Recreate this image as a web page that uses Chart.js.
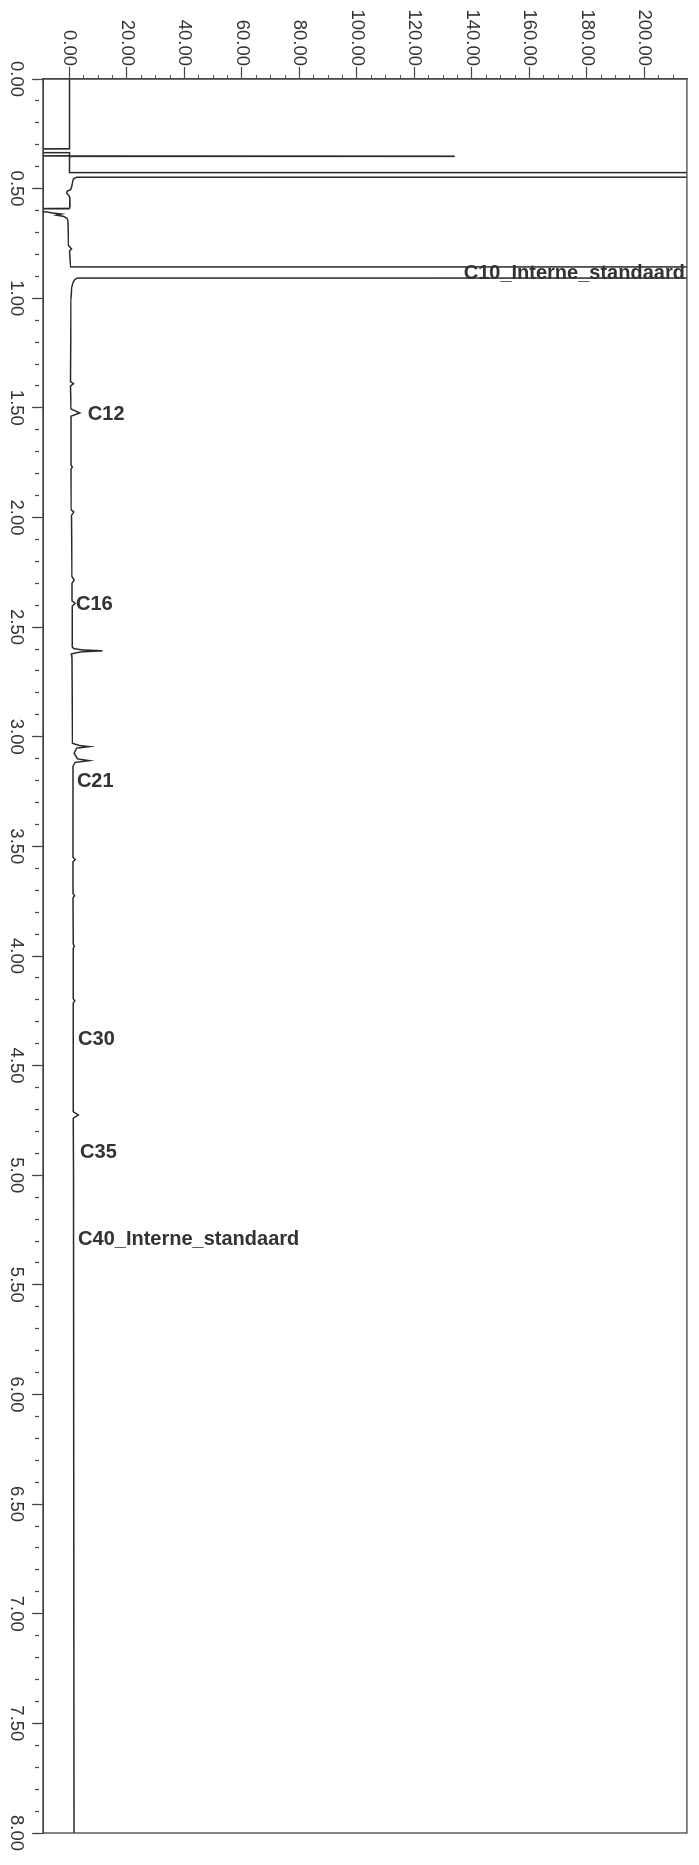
<!DOCTYPE html>
<html>
<head>
<meta charset="utf-8">
<script src="https://cdn.jsdelivr.net/npm/chart.js@4.4.4/dist/chart.umd.min.js"></script>
<style>
  html, body { margin: 0; padding: 0; background: #fff; overflow: hidden; width: 699px; height: 1865px; }
  /* the chromatogram is printed sideways: draw it landscape, turn it a quarter clockwise */
  #wrap { position: absolute; left: 0; top: 0; width: 1865px; height: 699px;
          transform-origin: 0 0; transform: translate(699px, 0) rotate(90deg); }
</style>
</head>
<body>
<div id="wrap"><canvas id="chart" width="1865" height="699"></canvas></div>
<script>
// retention time (min) and detector signal
const retentionTimes = [
  0.000, 0.318, 0.319, 0.335, 0.336, 0.350, 0.351, 0.352, 0.353, 0.425,
  0.427, 0.446, 0.448, 0.452, 0.458, 0.470, 0.490, 0.505, 0.512, 0.520,
  0.528, 0.540, 0.580, 0.590, 0.592, 0.604, 0.606, 0.611, 0.616, 0.621,
  0.627, 0.636, 0.650, 0.700, 0.760, 0.775, 0.785, 0.820, 0.857, 0.859,
  0.906, 0.908, 0.915, 0.930, 0.950, 1.000, 1.380, 1.390, 1.400, 1.505,
  1.523, 1.538, 1.760, 1.770, 1.780, 1.965, 1.975, 1.990, 2.270, 2.285,
  2.300, 2.380, 2.392, 2.404, 2.590, 2.598, 2.604, 2.608, 2.613, 2.622,
  2.640, 3.030, 3.040, 3.045, 3.052, 3.075, 3.101, 3.109, 3.117, 3.135,
  3.550, 3.560, 3.570, 3.715, 3.725, 3.735, 3.945, 3.955, 3.965, 4.195,
  4.205, 4.215, 4.710, 4.725, 4.740, 5.000, 6.500, 8.000
];
const signal = [
  0, 0, -20, -20, 0, 0, -20, 134, 0, 0,
  3000, 3000, 2.6, 1.8, 1.3, 1.1, 0.8, 0.4, -0.8, -1.0,
  -0.4, 0.1, 0.2, 0, -20, -20, -8, -6, -2.8, -4.5,
  -2, -0.8, -0.5, -0.4, -0.3, 0.7, 0, 0.2, 0.4, 3000,
  3000, 2.7, 1.9, 1.2, 0.8, 0.5, 0.4, 1.4, 0.4, 0.5,
  3.6, 0.5, 0.5, 1.0, 0.5, 0.6, 1.5, 0.7, 0.9, 1.6,
  0.9, 0.9, 2.0, 1.0, 1.0, 1.5, 4.5, 11.5, 4.0, 0.7,
  0.9, 1.1, 3.5, 6.9, 2.5, 1.6, 2.8, 6.9, 2.0, 1.2,
  1.2, 2.0, 1.2, 1.2, 1.8, 1.2, 1.3, 1.7, 1.3, 1.3,
  1.9, 1.3, 1.3, 3.1, 1.3, 1.4, 1.5, 1.6
];

// peak annotations; a null level means the peak runs off scale
const peakNames = ['C10_Interne_standaard', 'C12', 'C16', 'C21', 'C30', 'C35', 'C40_Interne_standaard'];
const peakTimes = [0.885, 1.532, 2.399, 3.206, 4.383, 4.894, 5.291];
const peakLabelLevels = [null, 6.4, 2.3, 2.6, 3.0, 3.7, 3.0];

const timeTicks = [0, 0.5, 1, 1.5, 2, 2.5, 3, 3.5, 4, 4.5, 5, 5.5, 6, 6.5, 7, 7.5, 8];
const timeTickLabels = ['0.00', '0.50', '1.00', '1.50', '2.00', '2.50', '3.00', '3.50', '4.00',
  '4.50', '5.00', '5.50', '6.00', '6.50', '7.00', '7.50', '8.00'];
const signalTicks = [0, 20, 40, 60, 80, 100, 120, 140, 160, 180, 200];
const signalTickLabels = ['0.00', '20.00', '40.00', '60.00', '80.00', '100.00', '120.00',
  '140.00', '160.00', '180.00', '200.00'];

const TIME_MIN = 0, TIME_MAX = 8;
const SIGNAL_MIN = -9.2, SIGNAL_MAX = 214.8;

const INK = '#2a2a2a';
const TEXT = '#333';
const FONT = '"Liberation Sans", Arial, sans-serif';

const minorTimeTicks = [];
for (let i = 0; i <= 80; i++) minorTimeTicks.push(i / 10);
const minorSignalTicks = [];
for (let v = 0; v <= 210; v += 5) minorSignalTicks.push(v);

function fixedTicks(values) {
  return scale => { scale.ticks = values.map(value => ({ value })); };
}

const framePlugin = {
  id: 'frame',
  afterDatasetsDraw(chart) {
    const { ctx, chartArea: a } = chart;
    ctx.save();
    ctx.strokeStyle = '#444';
    ctx.lineWidth = 1.3;
    ctx.strokeRect(a.left, a.top, a.right - a.left, a.bottom - a.top);
    ctx.restore();
  }
};

const peakLabelPlugin = {
  id: 'peakLabels',
  afterDatasetsDraw(chart) {
    const { ctx, chartArea, scales: { x, y } } = chart;
    ctx.save();
    ctx.font = 'bold 20px ' + FONT;
    ctx.fillStyle = TEXT;
    ctx.textBaseline = 'middle';
    peakNames.forEach((name, i) => {
      const px = x.getPixelForValue(peakTimes[i]);
      const level = peakLabelLevels[i];
      const py = level === null ? chartArea.top + 2 : y.getPixelForValue(level);
      ctx.save();
      ctx.translate(px, py);
      ctx.rotate(-Math.PI / 2);
      ctx.textAlign = level === null ? 'right' : 'left';
      ctx.fillText(name, 0, 0);
      ctx.restore();
    });
    ctx.restore();
  }
};

new Chart(document.getElementById('chart'), {
  type: 'line',
  data: {
    datasets: [{
      data: retentionTimes.map((t, i) => ({ x: t, y: signal[i] })),
      borderColor: INK,
      borderWidth: 1.5,
      pointRadius: 0,
      tension: 0,
      fill: false
    }]
  },
  options: {
    responsive: false,
    animation: false,
    layout: { padding: { top: 12, right: 32, left: 0, bottom: 0 } },
    plugins: { legend: { display: false }, tooltip: { enabled: false } },
    scales: {
      x: {
        type: 'linear', position: 'bottom', weight: 1,
        min: TIME_MIN, max: TIME_MAX,
        afterBuildTicks: fixedTicks(timeTicks),
        afterFit: s => { s.height = 43; },
        ticks: {
          autoSkip: false, minRotation: 0, maxRotation: 0, padding: 5, color: TEXT,
          font: { family: FONT, size: 18.5 },
          callback: (v, i) => timeTickLabels[i]
        },
        grid: { drawOnChartArea: false, tickLength: 11, tickColor: '#444', tickWidth: 1.2 },
        border: { color: '#444', width: 1.3 }
      },
      xMinor: {
        type: 'linear', position: 'bottom', weight: 0,
        min: TIME_MIN, max: TIME_MAX,
        afterBuildTicks: fixedTicks(minorTimeTicks),
        afterFit: s => { s.height = 0; },
        ticks: { display: false, autoSkip: false },
        grid: { drawOnChartArea: false, tickLength: 8, tickColor: '#444', tickWidth: 1.2, tickBorderDash: [0, 4, 4, 40] },
        border: { display: false }
      },
      y: {
        type: 'linear', position: 'left', weight: 1,
        min: SIGNAL_MIN, max: SIGNAL_MAX,
        afterBuildTicks: fixedTicks(signalTicks),
        afterFit: s => { s.width = 79; },
        ticks: {
          autoSkip: false, padding: 1, color: TEXT,
          font: { family: FONT, size: 18.5 },
          callback: (v, i) => signalTickLabels[i]
        },
        grid: { drawOnChartArea: false, tickLength: 12, tickColor: '#444', tickWidth: 1.2 },
        border: { color: '#444', width: 1.3 }
      },
      yMinor: {
        type: 'linear', position: 'left', weight: 0,
        min: SIGNAL_MIN, max: SIGNAL_MAX,
        afterBuildTicks: fixedTicks(minorSignalTicks),
        afterFit: s => { s.width = 0; },
        ticks: { display: false, autoSkip: false },
        grid: { drawOnChartArea: false, tickLength: 4, tickColor: '#555', tickWidth: 1 },
        border: { display: false }
      }
    }
  },
  plugins: [framePlugin, peakLabelPlugin]
});
</script>
</body>
</html>
